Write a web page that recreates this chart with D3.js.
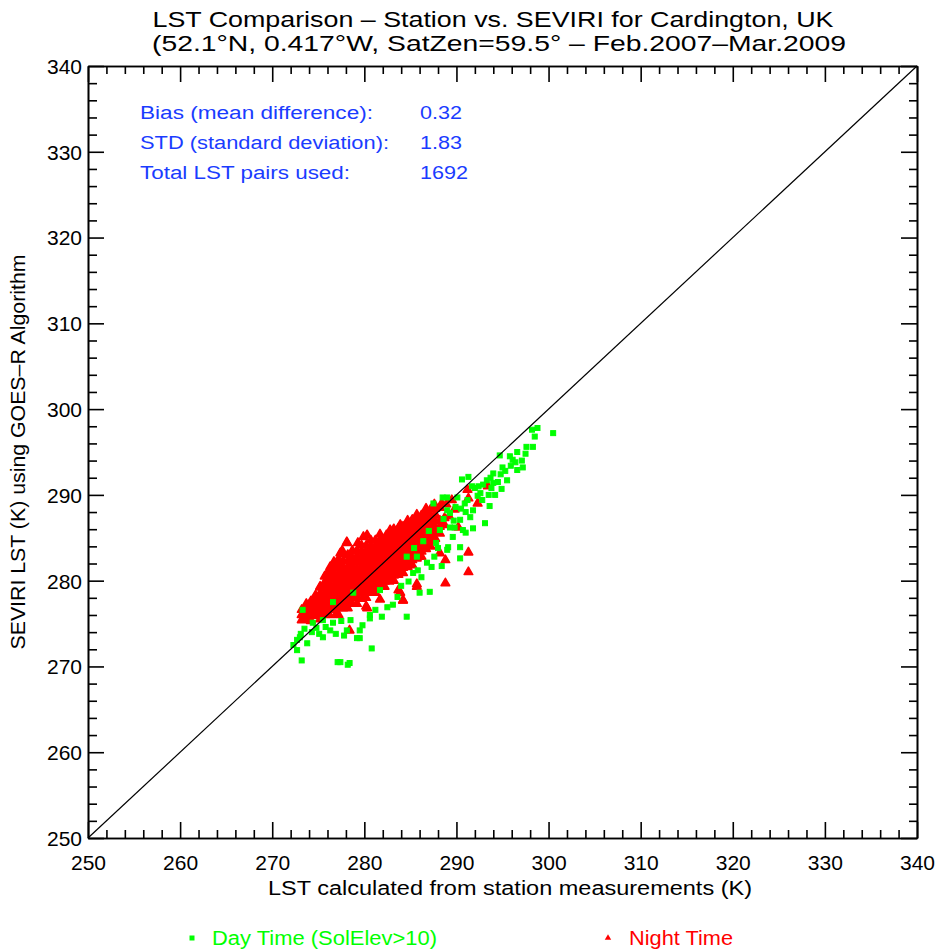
<!DOCTYPE html>
<html><head><meta charset="utf-8">
<script src="https://cdn.jsdelivr.net/npm/d3@7"></script>
<style>html,body{margin:0;padding:0;background:#fff;} svg{display:block;}</style>
</head><body>
<script>
const titleLines = ["LST Comparison \u2013 Station vs. SEVIRI for Cardington, UK",
                    "(52.1\u00b0N, 0.417\u00b0W, SatZen=59.5\u00b0 \u2013 Feb.2007\u2013Mar.2009"];
const xLabel = "LST calculated from station measurements (K)";
const yLabel = "SEVIRI LST (K) using GOES\u2013R Algorithm";
const xTicks = [250,260,270,280,290,300,310,320,330,340];
const yTicks = [250,260,270,280,290,300,310,320,330,340];
const statLabels = ["Bias (mean difference):","STD (standard deviation):","Total LST pairs used:"];
const statValues = ["0.32","1.83","1692"];
const legendLabels = ["Day Time (SolElev>10)","Night Time"];
const oneToOne = [250,340];

// Night time points [station LST, SEVIRI LST]
const nightPoints = [
[273.2,275.4],[273.2,276.0],[273.2,276.6],
[273.7,275.5],[273.7,276.1],[273.7,276.7],[273.7,277.3],
[274.2,275.3],[274.2,275.9],[274.2,276.5],[274.2,277.1],[274.2,277.6],
[274.7,275.9],[274.7,276.5],[274.7,277.1],[274.7,277.7],[274.7,278.3],
[275.2,275.5],[275.2,276.1],[275.2,276.7],[275.2,277.3],[275.2,277.9],[275.2,278.5],[275.2,279.2],
[275.7,276.1],[275.7,276.7],[275.7,277.3],[275.7,277.9],[275.7,278.5],[275.7,279.1],[275.7,279.8],[275.7,280.5],
[276.2,276.0],[276.2,276.6],[276.2,277.2],[276.2,277.8],[276.2,278.4],[276.2,279.0],[276.2,279.6],[276.2,280.3],[276.2,281.0],
[276.7,276.6],[276.7,277.2],[276.7,277.8],[276.7,278.4],[276.7,279.0],[276.7,279.6],[276.7,280.2],[276.7,280.8],[276.7,281.5],[276.7,282.2],
[277.2,276.0],[277.2,276.8],[277.2,277.4],[277.2,278.0],[277.2,278.6],[277.2,279.2],[277.2,279.8],[277.2,280.4],[277.2,281.0],[277.2,281.7],[277.2,282.5],
[277.7,276.8],[277.7,277.4],[277.7,278.0],[277.7,278.6],[277.7,279.2],[277.7,279.8],[277.7,280.4],[277.7,281.0],[277.7,281.6],[277.7,282.3],[277.7,283.1],[277.6,283.5],
[278.2,276.8],[278.2,277.4],[278.2,278.0],[278.2,278.6],[278.2,279.2],[278.2,279.8],[278.2,280.4],[278.2,281.0],[278.2,281.6],[278.2,282.3],[278.2,283.0],[278.1,284.4],
[278.7,277.3],[278.7,278.0],[278.7,278.6],[278.7,279.2],[278.7,279.8],[278.7,280.4],[278.7,281.0],[278.7,281.6],[278.7,282.2],[278.7,282.8],[278.7,283.5],
[279.2,277.3],[279.2,278.0],[279.2,278.6],[279.2,279.2],[279.2,279.8],[279.2,280.4],[279.2,281.0],[279.2,281.6],[279.2,282.2],[279.2,282.8],[279.2,283.5],[279.3,284.4],
[279.7,277.9],[279.7,278.6],[279.7,279.2],[279.7,279.8],[279.7,280.4],[279.7,281.0],[279.7,281.6],[279.7,282.2],[279.7,282.8],[279.7,283.4],[279.7,284.1],
[280.2,277.0],[280.2,278.0],[280.2,278.6],[280.2,279.2],[280.2,279.8],[280.2,280.4],[280.2,281.0],[280.2,281.6],[280.2,282.2],[280.2,282.8],[280.2,283.4],[280.2,284.1],[280.3,285.3],
[280.7,278.6],[280.7,279.2],[280.7,279.8],[280.7,280.4],[280.7,281.0],[280.7,281.6],[280.7,282.2],[280.7,282.8],[280.7,283.4],[280.7,284.0],[280.7,284.7],
[281.2,278.6],[281.2,279.2],[281.2,279.8],[281.2,280.4],[281.2,281.0],[281.2,281.6],[281.2,282.2],[281.2,282.8],[281.2,283.4],[281.2,284.0],[281.2,284.7],
[281.7,277.8],[281.7,279.3],[281.7,279.9],[281.7,280.5],[281.7,281.1],[281.7,281.7],[281.7,282.3],[281.7,282.9],[281.7,283.5],[281.7,284.1],[281.7,284.7],[281.7,285.4],
[282.2,279.3],[282.2,279.9],[282.2,280.5],[282.2,281.1],[282.2,281.7],[282.2,282.3],[282.2,282.9],[282.2,283.5],[282.2,284.1],[282.2,284.7],[282.4,285.3],
[282.7,279.9],[282.7,280.5],[282.7,281.1],[282.7,281.7],[282.7,282.3],[282.7,282.9],[282.7,283.5],[282.7,284.1],[282.7,284.7],[282.7,285.3],[282.8,285.9],
[283.2,280.0],[283.2,280.6],[283.2,281.2],[283.2,281.8],[283.2,282.4],[283.2,283.0],[283.2,283.6],[283.2,284.2],[283.2,284.8],[283.2,285.4],[283.2,286.0],
[283.7,278.9],[283.7,280.7],[283.7,281.3],[283.7,281.9],[283.7,282.5],[283.7,283.1],[283.7,283.7],[283.7,284.3],[283.7,284.9],[283.7,285.5],[283.7,286.1],[283.9,286.5],
[284.2,277.7],[284.2,280.9],[284.2,281.5],[284.2,282.1],[284.2,282.7],[284.2,283.3],[284.2,283.9],[284.2,284.5],[284.2,285.1],[284.2,285.7],[284.2,286.3],
[284.7,281.6],[284.7,282.2],[284.7,282.8],[284.7,283.4],[284.7,284.0],[284.7,284.6],[284.7,285.2],[284.7,285.8],[284.7,286.4],[284.7,287.0],
[285.2,281.8],[285.2,282.4],[285.2,283.0],[285.2,283.6],[285.2,284.2],[285.2,284.8],[285.2,285.4],[285.2,286.0],[285.2,286.6],[285.2,287.1],
[285.7,279.6],[285.7,282.6],[285.7,283.2],[285.7,283.8],[285.7,284.4],[285.7,285.0],[285.7,285.6],[285.7,286.2],[285.7,286.8],[285.7,287.4],[285.7,287.7],
[286.2,282.8],[286.2,283.4],[286.2,284.0],[286.2,284.6],[286.2,285.2],[286.2,285.8],[286.2,286.4],[286.2,287.0],[286.2,287.6],
[286.7,283.7],[286.7,284.3],[286.7,284.9],[286.7,285.5],[286.7,286.1],[286.7,286.7],[286.7,287.3],[286.7,287.9],[286.7,288.4],
[287.2,284.0],[287.2,284.6],[287.2,285.2],[287.2,285.8],[287.2,286.4],[287.2,287.0],[287.2,287.6],[287.2,288.3],
[287.7,284.9],[287.7,285.6],[287.7,286.3],[287.7,287.0],[287.7,287.7],[287.7,288.4],[287.6,288.9],
[288.2,283.2],[288.2,285.5],[288.2,286.3],[288.2,287.0],[288.2,288.5],[288.4,289.0],
[288.8,282.4],[288.7,286.5],[288.7,287.3],[288.9,288.9],
[289.2,287.5],[289.5,289.4],[289.8,288.3],[290.2,286.2],[291.3,289.6],[291.2,290.6],[292.3,289.0],[293.4,291.0],
[291.3,283.3],[291.3,281.0],[288.8,279.7],[285.7,279.3],[284.2,277.7],[283.9,278.6],[280.3,276.8],[278.4,274.2],[277.0,276.2],
[276.3,281.6],[277.4,283.2],[279.9,285.1],[281.7,284.7],[282.5,285.1],[278.1,284.5],[275.2,279.3],[276.0,280.9]
];

// Day time points [station LST, SEVIRI LST]
const dayPoints = [
[272.3,272.5],[272.7,273.1],[272.7,271.9],[273.2,270.7],[273.0,273.4],[273.8,272.7],[273.1,273.8],[273.5,274.4],
[273.3,276.6],[274.4,275.1],[274.3,274.0],[274.8,274.5],[275.1,273.8],[275.5,273.4],[275.5,275.4],[275.8,274.6],
[276.3,274.2],[276.6,275.1],[276.9,273.8],[276.6,277.5],[277.1,270.5],[277.4,270.5],[277.5,275.3],[277.8,273.6],
[278.1,274.2],[278.4,270.4],[278.2,270.2],[278.5,275.4],[278.8,278.6],[279.2,273.3],[279.5,274.2],[279.5,273.3],
[279.8,274.8],[280.6,276.0],[280.6,275.6],[280.8,272.1],[281.2,276.6],[281.7,278.9],[281.9,275.8],[282.5,276.9],
[283.1,277.2],[283.6,278.1],[284.0,279.4],[284.6,275.8],[284.8,279.9],[285.3,280.9],[285.8,281.2],[286.0,278.6],
[285.7,282.8],[286.8,282.1],[287.1,278.7],[287.3,281.6],[287.6,282.8],[288.0,283.8],[288.4,281.7],[289.0,283.6],
[289.1,283.9],[289.6,285.1],[290.4,283.9],[290.7,285.9],[289.3,286.2],[288.2,285.9],[290.4,287.1],[291.5,287.4],
[291.8,286.1],[291.0,285.6],[290.4,282.6],[289.3,287.9],[289.0,288.2],[289.0,289.7],[287.5,289.0],[288.5,289.7],
[290.1,289.7],[291.2,289.4],[291.8,288.2],[292.6,290.2],[293.6,288.7],[293.1,286.7],[293.3,291.7],[294.0,292.5],
[290.6,291.8],[291.3,292.1],[292.0,290.8],[292.9,291.2],[293.8,290.8],[294.2,290.0],[294.5,291.5],[294.9,290.7],
[295.5,291.7],[296.1,294.1],[296.6,292.9],[295.3,292.8],[295.9,293.4],[294.7,294.6],[296.6,295.0],[297.1,294.0],
[297.5,294.8],[297.6,295.6],[298.3,295.6],[297.2,293.2],[298.2,297.6],[298.8,297.8],[298.5,296.8],[300.5,297.2],
[289.9,288.6],[290.9,289.0],[292.3,289.9],[292.8,289.4],[293.5,290.0],[294.0,291.4],[295.0,293.2],[295.8,294.5],
[296.4,293.8],[294.8,292.4],[293.7,292.0],[292.4,291.0],[291.7,291.0],[290.5,288.4],[289.7,287.0],[291.0,288.0],
[286.4,284.6],[287.0,285.8],[287.8,284.4],[288.6,287.2],[289.8,286.2],[285.4,283.8],[284.6,282.8],[286.2,280.4]
];

const W = 936, H = 949;
const svg = d3.select("body").append("svg").attr("width", W).attr("height", H)
  .style("font-family", "'Liberation Sans', Arial, sans-serif");

const L = 88, R = 917, T = 66, B = 838;
const x = d3.scaleLinear().domain([250,340]).range([L,R]);
const y = d3.scaleLinear().domain([250,340]).range([B,T]);

// Title
svg.append("text").attr("x", 493).attr("y", 27).attr("text-anchor","middle")
  .attr("font-size", 21.5).attr("textLength", 681).attr("lengthAdjust","spacingAndGlyphs")
  .text(titleLines[0]);
svg.append("text").attr("x", 499).attr("y", 51).attr("text-anchor","middle")
  .attr("font-size", 21.5).attr("textLength", 694).attr("lengthAdjust","spacingAndGlyphs")
  .text(titleLines[1]);

// Points (night first, day on top)
const tri = d3.symbol().type(d3.symbolTriangle).size(32);
svg.append("g").selectAll("path").data(nightPoints).join("path")
  .attr("d", tri).attr("transform", d => `translate(${x(d[0])},${y(d[1])})`)
  .attr("fill", "#ff0000").attr("stroke", "#ff0000").attr("stroke-width", 1.6).attr("stroke-linejoin","round");
svg.append("g").selectAll("rect").data(dayPoints).join("rect")
  .attr("x", d => x(d[0]) - 2.5).attr("y", d => y(d[1]) - 2.5)
  .attr("width", 5).attr("height", 5)
  .attr("fill", "#00ff00").attr("stroke", "#00ff00").attr("stroke-width", 1);

// 1:1 line
svg.append("line").attr("x1", x(oneToOne[0])).attr("y1", y(oneToOne[0]))
  .attr("x2", x(oneToOne[1])).attr("y2", y(oneToOne[1]))
  .attr("stroke", "#000").attr("stroke-width", 1.2);

// Axes with inward ticks
const tickFmt = d3.format("d");
function minorVals(){ const a=[]; for (let v=250; v<=340; v+=2) if (v%10!==0) a.push(v); return a; }
const gB = svg.append("g").attr("transform", `translate(0,${B})`)
  .call(d3.axisBottom(x).tickValues(xTicks).tickSizeInner(-16).tickSizeOuter(0).tickPadding(17).tickFormat(tickFmt));
const gBm = svg.append("g").attr("transform", `translate(0,${B})`)
  .call(d3.axisBottom(x).tickValues(minorVals()).tickSizeInner(-8).tickSizeOuter(0).tickFormat(""));
const gT = svg.append("g").attr("transform", `translate(0,${T})`)
  .call(d3.axisTop(x).tickValues(xTicks).tickSizeInner(-16).tickSizeOuter(0).tickFormat(""));
const gTm = svg.append("g").attr("transform", `translate(0,${T})`)
  .call(d3.axisTop(x).tickValues(minorVals()).tickSizeInner(-8).tickSizeOuter(0).tickFormat(""));
const gL = svg.append("g").attr("transform", `translate(${L},0)`)
  .call(d3.axisLeft(y).tickValues(yTicks).tickSizeInner(-16).tickSizeOuter(0).tickPadding(6).tickFormat(tickFmt));
const gLm = svg.append("g").attr("transform", `translate(${L},0)`)
  .call(d3.axisLeft(y).tickValues(minorVals()).tickSizeInner(-9).tickSizeOuter(0).tickFormat(""));
const gR = svg.append("g").attr("transform", `translate(${R},0)`)
  .call(d3.axisRight(y).tickValues(yTicks).tickSizeInner(-16).tickSizeOuter(0).tickFormat(""));
const gRm = svg.append("g").attr("transform", `translate(${R},0)`)
  .call(d3.axisRight(y).tickValues(minorVals()).tickSizeInner(-8).tickSizeOuter(0).tickFormat(""));
[gB,gBm,gT,gTm,gL,gLm,gR,gRm].forEach(g => {
  g.selectAll("path,line").attr("stroke","#000").attr("stroke-width",1.6);
  g.selectAll("text").attr("fill","#000").attr("font-size",21).style("font-family","'Liberation Sans', Arial, sans-serif");
});
gL.selectAll("text").attr("dy","0.35em").attr("x",-6);

// Axis labels
svg.append("text").attr("x", 510).attr("y", 895).attr("text-anchor","middle")
  .attr("font-size", 20).attr("textLength", 484).attr("lengthAdjust","spacingAndGlyphs").text(xLabel);
svg.append("text").attr("transform","translate(25,452) rotate(-90)").attr("text-anchor","middle")
  .attr("font-size", 21).attr("textLength", 395).attr("lengthAdjust","spacingAndGlyphs").text(yLabel);

// Statistics
const statY = [119,149,179];
const statLabW = [233,249,210];
const statValW = [42,42,48];
statLabels.forEach((s,i) => {
  svg.append("text").attr("x",140).attr("y",statY[i]).attr("font-size",18).attr("fill","#1a3cff")
    .attr("textLength",statLabW[i]).attr("lengthAdjust","spacingAndGlyphs").text(s);
  svg.append("text").attr("x",420).attr("y",statY[i]).attr("font-size",18).attr("fill","#1a3cff")
    .attr("textLength",statValW[i]).attr("lengthAdjust","spacingAndGlyphs").text(statValues[i]);
});

// Legend
svg.append("rect").attr("x",189.5).attr("y",935.5).attr("width",5).attr("height",5).attr("fill","#00ff00");
svg.append("text").attr("x",212).attr("y",945).attr("font-size",20).attr("fill","#00ff00")
  .attr("textLength",225).attr("lengthAdjust","spacingAndGlyphs").text(legendLabels[0]);
svg.append("path").attr("d", d3.symbol().type(d3.symbolTriangle).size(18)).attr("transform","translate(608,938)").attr("fill","#ff0000");
svg.append("text").attr("x",629).attr("y",945).attr("font-size",20).attr("fill","#ff0000")
  .attr("textLength",104).attr("lengthAdjust","spacingAndGlyphs").text(legendLabels[1]);
</script>
</body></html>
